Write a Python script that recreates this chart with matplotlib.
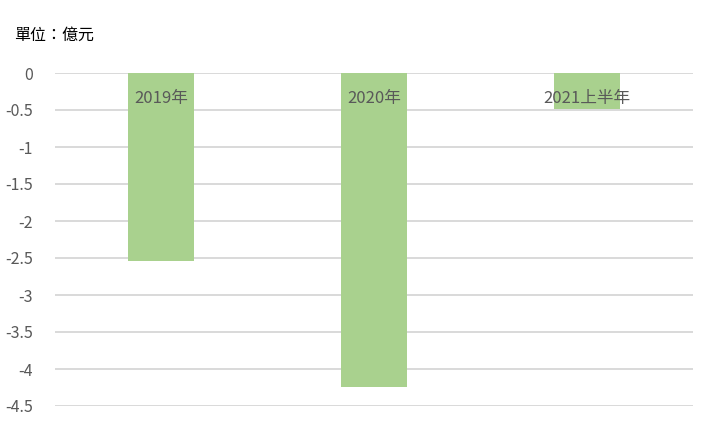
import matplotlib.pyplot as plt
import numpy as np

plt.rcParams['font.family'] = ['Noto Sans CJK TC', 'DejaVu Sans']

categories = ['2019年', '2020年', '2021上半年']
values = [-2.54, -4.24, -0.49]
yticks = [0, -0.5, -1, -1.5, -2, -2.5, -3, -3.5, -4, -4.5]
ytick_labels = ['0', '-0.5', '-1', '-1.5', '-2', '-2.5', '-3', '-3.5', '-4', '-4.5']

fig = plt.figure(figsize=(7.12, 4.22), dpi=100)
ax = fig.add_axes([55 / 712, 1 - 406 / 422, (693 - 55) / 712, (406 - 73) / 422])

x = np.arange(len(categories))
ax.bar(x, values, width=0.31, color='#A9D18E', zorder=2)

ax.set_xlim(-0.5, len(categories) - 0.5)
ax.set_ylim(-4.5, 0)
ax.set_yticks(yticks)
ax.set_yticklabels(ytick_labels)
ax.yaxis.grid(True, color='#D9D9D9', linewidth=1.4, zorder=0)
ax.set_xticks([])
ax.tick_params(axis='y', length=0, pad=16, labelsize=11.5, labelcolor='#595959')
for s in ax.spines.values():
    s.set_visible(False)
ax.set_axisbelow(True)

# category labels sit just under the zero line
for i, c in enumerate(categories):
    ax.annotate(c, (i, 0), xytext=(0, -18.5), textcoords='offset points',
                ha='center', va='center', fontsize=12, color='#595959', zorder=3)

fig.text(14 / 712, 1 - 35 / 422, '單位：億元', fontsize=11.5, color='black',
         ha='left', va='center')

fig.savefig('out.png', dpi=100)
